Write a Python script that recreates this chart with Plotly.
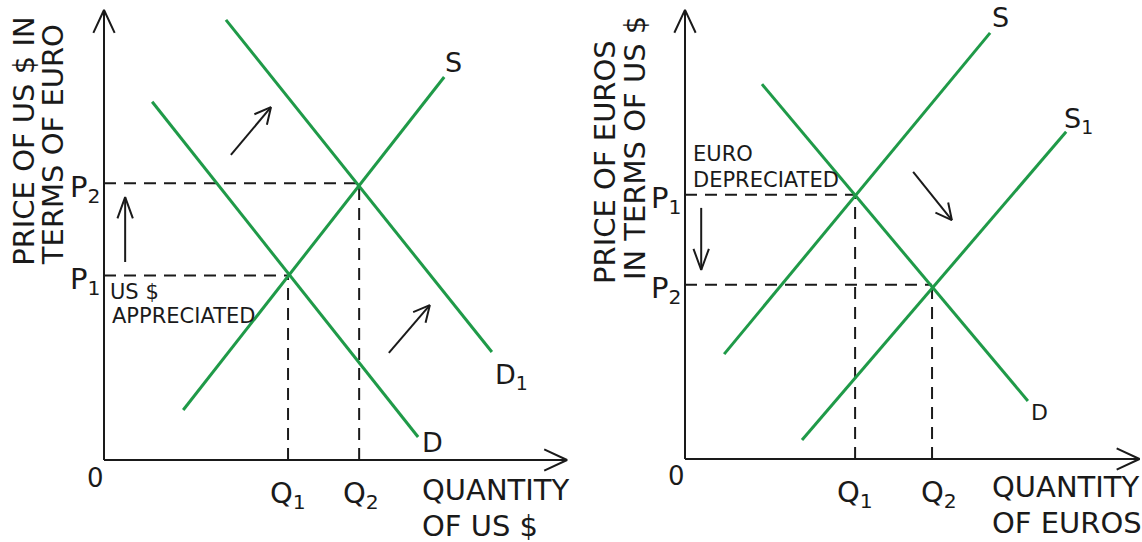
import math
import plotly.graph_objects as go

# ---------------- data (arbitrary quantity / price units) ----------------
# Left panel: market for US dollars
L_S_q = [1.76, 7.56]
L_S_p = [1.11, 8.51]
L_D_q = [1.07, 6.98]
L_D_p = [7.96, 0.51]
L_D1_q = [2.71, 8.62]
L_D1_p = [9.78, 2.40]
L_P = [4.10, 6.15]          # P1, P2
L_Q = [4.09, 5.67]          # Q1, Q2
L_axis = [10.29, 10.0]      # x-axis length, y-axis length

# Right panel: market for euros
R_S_q = [0.87, 6.78]
R_S_p = [2.33, 9.47]
R_S1_q = [2.60, 8.47]
R_S1_p = [0.42, 7.27]
R_D_q = [1.71, 7.62]
R_D_p = [8.33, 1.29]
R_P = [5.87, 3.87]          # P1, P2
R_Q = [3.78, 5.49]          # Q1, Q2
R_axis = [10.1, 9.98]

# shift arrows: (q0, p0, q1, p1)
L_shift_arrows = [(2.82, 6.78, 3.71, 7.84), (6.33, 2.38, 7.24, 3.44)]
L_price_arrow = (0.47, 4.40, 0.47, 5.84)
R_shift_arrows = [(5.07, 6.38, 5.93, 5.31)]
R_price_arrow = (0.36, 5.58, 0.36, 4.20)

GREEN = "#1f9a48"
INK = "#1a1a1a"
FONT = "DejaVu Sans"
UNIT = 45.0  # pixels per data unit

fig = go.Figure()


def line(q, p, color, width, dash=None, xa="x", ya="y"):
    fig.add_trace(go.Scatter(x=q, y=p, mode="lines", xaxis=xa, yaxis=ya,
                             line=dict(color=color, width=width, dash=dash),
                             hoverinfo="skip", showlegend=False))


def chevron(q0, p0, q1, p1, length, half_angle, width, xa, ya):
    ang = math.atan2(p1 - p0, q1 - q0)
    a1 = ang + math.pi - math.radians(half_angle)
    a2 = ang + math.pi + math.radians(half_angle)
    xs = [q1 + length * math.cos(a1), q1, q1 + length * math.cos(a2)]
    ys = [p1 + length * math.sin(a1), p1, p1 + length * math.sin(a2)]
    line(xs, ys, INK, width, xa=xa, ya=ya)


def arrow(a, length, half_angle, width, xa, ya):
    q0, p0, q1, p1 = a
    line([q0, q1], [p0, p1], INK, width, xa=xa, ya=ya)
    chevron(q0, p0, q1, p1, length, half_angle, width, xa, ya)


def label(q, p, text, size, xa, ya, xanchor="center", yanchor="middle", angle=0):
    fig.add_annotation(x=q, y=p, xref=xa, yref=ya, text=text, showarrow=False,
                       xanchor=xanchor, yanchor=yanchor, textangle=angle,
                       font=dict(family=FONT, size=size, color=INK))


DASH = "12px,8px"

# ---------------- left panel ----------------
xa, ya = "x", "y"
line([0, L_axis[0]], [0, 0], INK, 2, xa=xa, ya=ya)
line([0, 0], [0, L_axis[1]], INK, 2, xa=xa, ya=ya)
chevron(0, 0, L_axis[0], 0, 0.56, 25, 2, xa, ya)
chevron(0, 0, 0, L_axis[1], 0.56, 25, 2, xa, ya)
line([0, L_Q[0]], [L_P[0], L_P[0]], INK, 2, DASH, xa, ya)
line([0, L_Q[1]], [L_P[1], L_P[1]], INK, 2, DASH, xa, ya)
line([L_Q[0], L_Q[0]], [0, L_P[0]], INK, 2, DASH, xa, ya)
line([L_Q[1], L_Q[1]], [0, L_P[1]], INK, 2, DASH, xa, ya)
line(L_S_q, L_S_p, GREEN, 3, xa=xa, ya=ya)
line(L_D_q, L_D_p, GREEN, 3, xa=xa, ya=ya)
line(L_D1_q, L_D1_p, GREEN, 3, xa=xa, ya=ya)
for a in L_shift_arrows:
    arrow(a, 0.40, 27, 2, xa, ya)
arrow(L_price_arrow, 0.50, 20, 2, xa, ya)

label(-0.2, -0.4, "0", 26, xa, ya)
label(-0.05, L_P[1] - 0.12, "P<sub>2</sub>", 29, xa, ya, xanchor="right")
label(-0.05, L_P[0] - 0.12, "P<sub>1</sub>", 29, xa, ya, xanchor="right")
label(L_Q[0], -0.3, "Q<sub>1</sub>", 29, xa, ya, yanchor="top")
label(L_Q[1] + 0.05, -0.3, "Q<sub>2</sub>", 29, xa, ya, yanchor="top")
label(7.02, -0.67, "QUANTITY", 29, xa, ya, xanchor="left")
label(7.02, -1.47, "OF US $", 29, xa, ya, xanchor="left")
label(7.76, 8.84, "S", 27, xa, ya)
label(7.31, 0.40, "D", 27, xa, ya)
label(8.64, 1.85, "D<sub>1</sub>", 27, xa, ya, xanchor="left")
label(0.09, 3.73, "US $", 21, xa, ya, xanchor="left")
label(0.13, 3.20, "APPRECIATED", 21, xa, ya, xanchor="left")
label(-1.78, 7.09, "PRICE OF US $ IN", 29, xa, ya, angle=-90)
label(-1.13, 7.00, "TERMS OF EURO", 29, xa, ya, angle=-90)

# ---------------- right panel ----------------
xa, ya = "x2", "y2"
line([0, R_axis[0]], [0, 0], INK, 2, xa=xa, ya=ya)
line([0, 0], [0, R_axis[1]], INK, 2, xa=xa, ya=ya)
chevron(0, 0, R_axis[0], 0, 0.56, 25, 2, xa, ya)
chevron(0, 0, 0, R_axis[1], 0.56, 25, 2, xa, ya)
line([0, R_Q[0]], [R_P[0], R_P[0]], INK, 2, DASH, xa, ya)
line([0, R_Q[1]], [R_P[1], R_P[1]], INK, 2, DASH, xa, ya)
line([R_Q[0], R_Q[0]], [0, R_P[0]], INK, 2, DASH, xa, ya)
line([R_Q[1], R_Q[1]], [0, R_P[1]], INK, 2, DASH, xa, ya)
line(R_S_q, R_S_p, GREEN, 3, xa=xa, ya=ya)
line(R_S1_q, R_S1_p, GREEN, 3, xa=xa, ya=ya)
line(R_D_q, R_D_p, GREEN, 3, xa=xa, ya=ya)
for a in R_shift_arrows:
    arrow(a, 0.40, 27, 2, xa, ya)
arrow(R_price_arrow, 0.50, 20, 2, xa, ya)

label(-0.2, -0.38, "0", 26, xa, ya)
label(-0.05, R_P[0] - 0.12, "P<sub>1</sub>", 29, xa, ya, xanchor="right")
label(-0.05, R_P[1] - 0.12, "P<sub>2</sub>", 29, xa, ya, xanchor="right")
label(R_Q[0], -0.3, "Q<sub>1</sub>", 29, xa, ya, yanchor="top")
label(R_Q[1] + 0.15, -0.3, "Q<sub>2</sub>", 29, xa, ya, yanchor="top")
label(6.78, -0.62, "QUANTITY", 29, xa, ya, xanchor="left")
label(6.78, -1.42, "OF EUROS", 29, xa, ya, xanchor="left")
label(7.0, 9.82, "S", 27, xa, ya)
label(8.38, 7.52, "S<sub>1</sub>", 27, xa, ya, xanchor="left")
label(7.87, 1.04, "D", 22, xa, ya)
label(0.13, 6.78, "EURO", 21, xa, ya, xanchor="left")
label(0.13, 6.20, "DEPRECIATED", 21, xa, ya, xanchor="left")
label(-1.78, 6.60, "PRICE OF EUROS", 29, xa, ya, angle=-90)
label(-1.11, 6.91, "IN TERMS OF US $", 29, xa, ya, angle=-90)

# ---------------- layout ----------------
W, H = 1142, 542
split = 575
axis_common = dict(visible=False, showgrid=False, zeroline=False, fixedrange=True)
fig.update_layout(
    width=W, height=H,
    margin=dict(l=0, r=0, t=0, b=0),
    paper_bgcolor="white", plot_bgcolor="white",
    showlegend=False,
    xaxis=dict(domain=[0, split / W], range=[-104 / UNIT, (split - 104) / UNIT], **axis_common),
    yaxis=dict(domain=[0, 1], range=[-82 / UNIT, 460 / UNIT], **axis_common),
    xaxis2=dict(domain=[split / W, 1], range=[-(685 - split) / UNIT, (W - 685) / UNIT], **axis_common),
    yaxis2=dict(domain=[0, 1], range=[-83 / UNIT, 459 / UNIT], anchor="x2", **axis_common),
)
fig.update_traces(cliponaxis=False)

fig.write_html("out.html", config={"displayModeBar": False},
               post_script="document.body.style.margin='0';document.body.style.overflow='hidden';")
